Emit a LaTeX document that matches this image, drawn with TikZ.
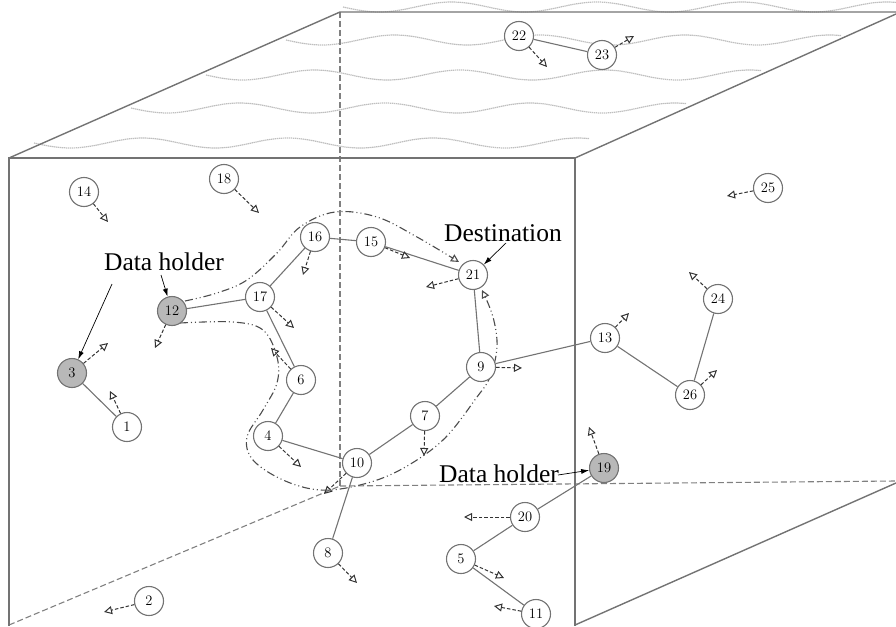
\documentclass[tikz,border=0pt]{standalone}
\usepackage{fontspec}
\newfontfamily\labelfont{Liberation Serif}
\usetikzlibrary{arrows.meta}
\begin{document}
\begin{tikzpicture}[x=1pt,y=-1pt,
  cube/.style={draw=black!55, line width=1.4pt},
  hidden/.style={draw=black!50, line width=1.1pt, dash pattern=on 6pt off 3pt},
  wave/.style={draw=black!25, line width=1.2pt, dash pattern=on 1.4pt off 0.6pt},
  sensor/.style={circle, draw=black!55, line width=1.1pt, fill=white, minimum size=29pt, inner sep=0pt, font=\fontsize{14.5}{14.5}\selectfont},
  holder/.style={sensor, fill=black!28},
  link/.style={draw=black!55, line width=1.1pt},
  mob/.style={draw=black!80, line width=1pt, dash pattern=on 3.5pt off 2pt, -{Triangle[open,length=8pt,width=8pt,line width=1pt]}},
  route/.style={draw=black!70, line width=1.1pt, dash pattern=on 8pt off 3pt on 1pt off 3pt on 1pt off 3pt, -{Triangle[open,length=8pt,width=8pt]}},
  callout/.style={draw=black, line width=0.7pt, -{Latex[length=8pt,width=5pt]}},
  tag/.style={font=\labelfont\fontsize{25.5}{27}\selectfont, inner sep=0pt}
]
\useasboundingbox (0,0) rectangle (896,626);

% water surface on the top face
\foreach \yy/\xa in {7/343, 40/286, 75/206, 108/131, 143/34}{
  \draw[wave] plot[domain=0:555, samples=120] ({\xa+\x}, {\yy + 5*sin(\x*2.4828)});
}

% hidden edges of the volume
\draw[hidden] (340,12) -- (340,486);
\draw[hidden] (340,486) -- (896,481);
\draw[hidden] (9,625) -- (340,486);

% visible edges of the volume
\draw[cube] (9,158) -- (340,12) -- (896,12);
\draw[cube] (9,626) -- (9,158) -- (575,158) -- (575,626);
\draw[cube] (575,158) -- (896,14);
\draw[cube] (575,625) -- (896,483);

% two candidate routes from node 12 towards the destination
\draw[route] plot[smooth, tension=0.6] coordinates {(185,301) (217,293) (247,280) (277,253) (300,227) (335,212) (377,217) (417,237) (459,262)};
\draw[route] plot[smooth, tension=0.6] coordinates {(180,323) (233,322) (263,330) (277,357) (277,383) (263,410) (247,437) (253,460) (283,480) (320,490) (360,485) (400,470) (443,440) (477,397) (490,377) (497,347) (493,317) (482,290)};

% sensor nodes
\foreach \n/\px/\py in {1/127/427, 2/149/601, 4/268/436, 5/461/559, 6/301/380, 7/425/416, 8/328/553, 9/481/367, 10/357/463, 11/536/614, 13/605/338, 14/84/192, 15/371/242, 16/315/237, 17/260/297, 18/224/179, 20/525/517, 21/473/275, 22/519/36, 23/602/55, 24/718/299, 25/768/188, 26/690/395}{
  \node[sensor] (n\n) at (\px,\py) {\n};
}
\node[holder] (n3) at (72,373) {3};
\node[holder] (n12) at (172,311) {12};
\node[holder] (n19) at (604,468) {19};

% links between neighbouring nodes
\foreach \a/\b in {3/1, 12/17, 17/16, 16/15, 15/21, 17/6, 6/4, 4/10, 10/7, 7/9, 9/21, 9/13, 13/26, 26/24, 10/8, 22/23, 19/20, 20/5, 5/11}{
  \draw[link] (n\a) -- (n\b);
}

% movement directions
\foreach \n/\tx/\ty in {14/108/222, 18/259/213, 16/303/275, 15/410/258, 21/426/287, 17/294/328, 12/155/348, 3/108/343, 1/110/391, 6/271/348, 4/301/467, 10/324/494, 7/424/456, 9/522/368, 8/357/583, 2/104/612, 13/629/313, 26/717/370, 24/689/272, 25/727/196, 22/547/67, 23/634/36, 19/589/427, 20/464/517, 5/504/578, 11/494/606}{
  \coordinate (m\n) at (\tx,\ty);
  \draw[mob] (n\n) -- (m\n);
}

% labels
\node[tag] (dh1) at (164,262) {Data holder};
\node[tag] (dst) at (503,233) {Destination};
\node[tag, anchor=west] (dh2) at (439,474) {Data holder};
\coordinate (c3) at (112,284);
\coordinate (c12) at (161,275);
\coordinate (c21) at (506,243);
\coordinate (c19) at (558,475);
\draw[callout] (c3) -- (n3);
\draw[callout] (c12) -- (n12);
\draw[callout] (c21) -- (n21);
\draw[callout] (c19) -- (n19);
\end{tikzpicture}
\end{document}
